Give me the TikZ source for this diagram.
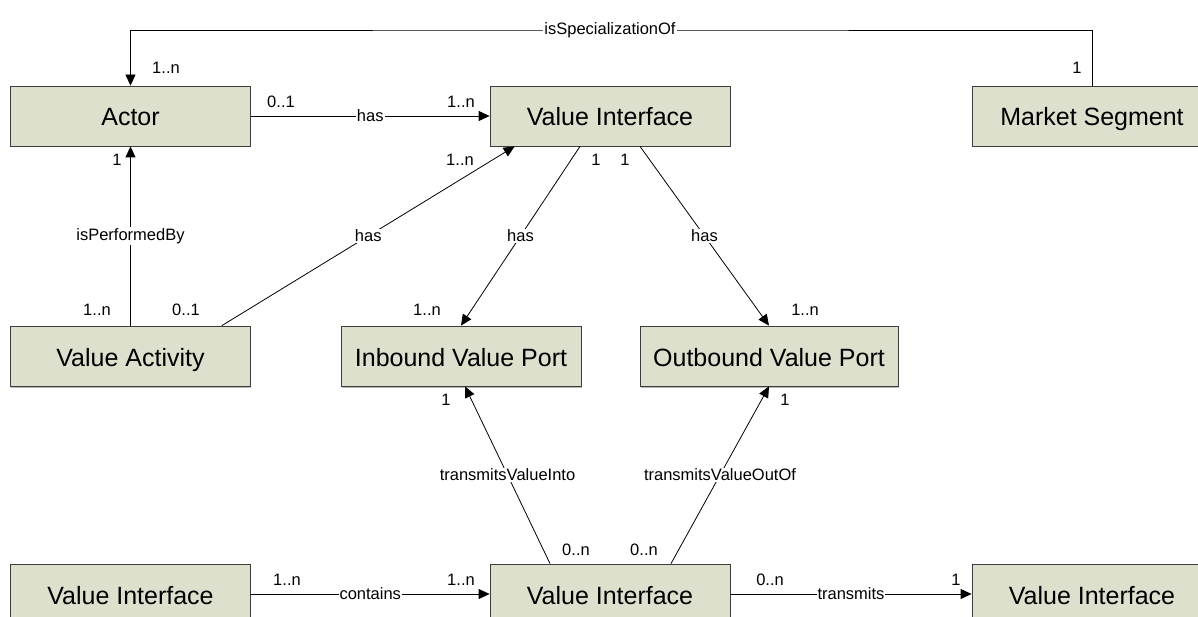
\documentclass[tikz,border=0pt]{standalone}
\usepackage{fontspec}
\setmainfont{Liberation Sans}
\usetikzlibrary{arrows.meta,calc,shadows}
\definecolor{classfill}{RGB}{221,224,204}
\definecolor{classline}{RGB}{60,60,60}
\newcommand{\boxfont}{\fontsize{25}{28}\selectfont}
\newcommand{\cardfont}{\fontsize{16.5}{18}\selectfont}

\begin{document}
\begin{tikzpicture}[x=1pt,y=-1pt,->,>={Triangle[length=11pt,width=10pt]},line width=0.8pt,
	class node/.style={rectangle,draw=classline,fill=classfill,minimum width=240pt,minimum height=60pt,inner sep=0pt,
		text height=21pt,text depth=1pt,font=\boxfont,
		drop shadow={shadow xshift=0.8pt,shadow yshift=-1.5pt,opacity=0.55}},
	card node/.style={font=\cardfont,inner sep=1pt},
	rel node/.style={font=\cardfont,fill=white,inner sep=1pt}]

	\useasboundingbox (0,0) rectangle (1198,617);
	\clip (0,0) rectangle (1198,617);

	% classes
	\node[class node] (actor) at (130.5,116) {Actor};
	\node[class node] (vitop) at (610,116) {Value Interface};
	\node[class node] (market) at (1092,116) {Market Segment};
	\node[class node] (activity) at (130.5,356) {Value Activity};
	\node[class node] (inport) at (461,356) {Inbound Value Port};
	\node[class node,minimum width=258pt] (outport) at (769,356) {Outbound Value Port};
	\node[class node] (vileft) at (130.5,594) {Value Interface};
	\node[class node] (vimid) at (610,594) {Value Interface};
	\node[class node] (viright) at (1092,594) {Value Interface};

	% free ends of the slanted lines
	\coordinate (spec) at (610,30);
	\coordinate (activity out) at ($(activity.north east)+(-29,0)$);
	\coordinate (vitop in) at ($(vitop.south west)+(25,0)$);
	\coordinate (vitop left) at ($(vitop.south)+(-30,0)$);
	\coordinate (vitop right) at ($(vitop.south)+(30,0)$);
	\coordinate (vimid left) at ($(vimid.north)+(-60,0)$);
	\coordinate (vimid right) at ($(vimid.north)+(61,0)$);
	\coordinate (inport in) at ($(inport.south)+(4,0)$);

	\draw (market.north) |- (spec) node[rel node] (lspec) {isSpecializationOf} -| (actor.north);
	\draw (actor) -- node[rel node] (lhas1) {has} (vitop);
	\draw (activity) -- node[rel node] (lperf) {isPerformedBy} (actor);
	\draw (activity out) -- node[rel node] (lhas2) {has} (vitop in);
	\draw (vitop left) -- node[rel node] (lhas3) {has} (inport.north);
	\draw (vitop right) -- node[rel node] (lhas4) {has} (outport.north);
	\draw (vimid left) -- node[rel node] (linto) {transmitsValueInto} (inport in);
	\draw (vimid right) -- node[rel node] (loutof) {transmitsValueOutOf} (outport.south);
	\draw (vileft) -- node[rel node] (lcont) {contains} (vimid);
	\draw (vimid) -- node[rel node] (ltrans) {transmits} (viright);

	% multiplicities
	\foreach \x/\y/\txt [count=\i] in {166/68/1..n, 1077/68/1, 281/102/0..1, 461/102/1..n,
		117/160/1, 460/160/1..n, 596/160/1, 625/160/1, 97/310/1..n, 186/310/0..1,
		427/310/1..n, 805/310/1..n, 446/400/1, 785/400/1, 576/550/0..n, 644/550/0..n,
		287/580/1..n, 461/580/1..n, 770/580/0..n, 956/580/1}
		\node[card node] (card\i) at (\x,\y) {\txt};

\end{tikzpicture}
\end{document}
